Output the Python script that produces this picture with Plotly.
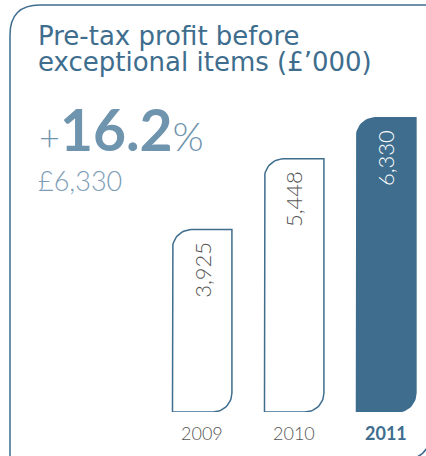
import numpy as np
import plotly.graph_objects as go

years = ["2009", "2010", "2011"]
values = [3925, 5448, 6330]
value_labels = ["3,925", "5,448", "6,330"]
title_lines = ["Pre-tax profit before", "exceptional items (£\u2019000)"]
headline_change = "16.2"
headline_value = "£6,330"

W, H = 426, 456
DARK = "#3e6d8e"
LIGHT = "#6f94ae"
GREY = "#555555"
FONT = "Lato"
TFONT = "DejaVu Sans"

# pixel geometry
mb = 44
ph = H - mb
px_per_unit = 0.04648
y_max = ph / px_per_unit
x_center0, x_step = 202.2, 92.0
x_min = -x_center0 / x_step
x_max = (W - x_center0) / x_step

half_w = 0.323
r_px = 19
rx = r_px / x_step
ry = r_px / px_per_unit

fig = go.Figure()


def bar_outline(xc, v):
    x0, x1 = xc - half_w, xc + half_w
    t = np.linspace(0, np.pi / 2, 16)
    xs, ys = [x0], [0]
    xs += list(x0 + rx - rx * np.cos(t))
    ys += list(v - ry + ry * np.sin(t))
    xs += [x1, x1]
    ys += [v, ry]
    xs += list(x1 - rx + rx * np.cos(t))
    ys += list(ry - ry * np.sin(t))
    xs += [x0]
    ys += [0]
    return xs, ys


for i, (yr, v) in enumerate(zip(years, values)):
    xs, ys = bar_outline(i, v)
    last = i == len(values) - 1
    fig.add_trace(go.Scatter(
        x=xs, y=ys, mode="lines", fill="toself",
        fillcolor=DARK if last else "white",
        line=dict(color=DARK, width=1.5),
        hoverinfo="skip", showlegend=False,
    ))
    fig.add_annotation(
        x=i, y=v, xref="x", yref="y", text=value_labels[i],
        textangle=-90, showarrow=False, yanchor="top", xanchor="center",
        yshift=-10,
        font=dict(family=FONT, size=22, color="white" if last else GREY, weight=300),
    )
    fig.add_annotation(
        x=i, y=0, xref="x", yref="y",
        text=f"<b>{yr}</b>" if last else yr,
        showarrow=False, yanchor="middle", xanchor="center", yshift=-21,
        font=dict(family=FONT, size=18, color=DARK if last else GREY, weight=300),
    )


def fy(pix):
    # pixel row (from top of figure) -> paper fraction of plot area
    return (ph - pix) / ph


def P(x, y):
    return f"{x / W:.5f},{fy(y):.5f}"


# Titles
fig.add_annotation(x=36 / W, y=fy(36), xref="paper", yref="paper",
                   text=title_lines[0], showarrow=False, xanchor="left", yanchor="middle",
                   font=dict(family=TFONT, size=26, color=DARK))
fig.add_annotation(x=36 / W, y=fy(62), xref="paper", yref="paper",
                   text=title_lines[1], showarrow=False, xanchor="left", yanchor="middle",
                   font=dict(family=TFONT, size=26, color=DARK))
fig.add_annotation(x=37 / W, y=fy(129), xref="paper", yref="paper",
                   text=("<span style='font-size:36px;font-weight:300'>+</span>"
                         f"<b>{headline_change}</b>"
                         "<span style='font-size:40px;font-weight:300'>%</span>"),
                   showarrow=False, xanchor="left", yanchor="middle",
                   font=dict(family=FONT, size=57, color=LIGHT))
fig.add_annotation(x=36 / W, y=fy(180), xref="paper", yref="paper",
                   text=headline_value, showarrow=False, xanchor="left", yanchor="middle",
                   font=dict(family=FONT, size=27, color="#7d9db6", weight=300))

# Frame
R = 30
p1 = f"M {P(10, H + 10)} L {P(10, 5 + R)} Q {P(10, 5)} {P(10 + R, 5)} L {P(W + 10, 5)}"
p2 = f"M {P(431, H - 60)} L {P(431, 460 - R)} Q {P(431, 460)} {P(431 - R, 460)} L {P(W - 80, 460)}"
for p in (p1, p2):
    fig.add_shape(type="path", path=p, xref="paper", yref="paper",
                  line=dict(color=DARK, width=1.5), layer="above")

fig.update_layout(
    width=W, height=H,
    margin=dict(l=0, r=0, t=0, b=mb),
    paper_bgcolor="white", plot_bgcolor="white",
    xaxis=dict(range=[x_min, x_max], visible=False, fixedrange=True),
    yaxis=dict(range=[0, y_max], visible=False, fixedrange=True),
    showlegend=False,
)

fig.write_html("out.html", config={"displayModeBar": False},
               post_script="document.body.style.margin='0px';document.body.style.overflow='hidden';")
